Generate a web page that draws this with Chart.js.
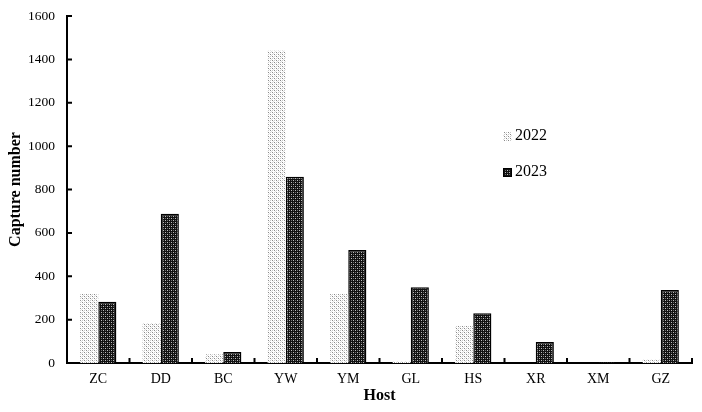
<!DOCTYPE html>
<html>
<head>
<meta charset="utf-8">
<script src="https://cdn.jsdelivr.net/npm/chart.js@4.4.1/dist/chart.umd.min.js"></script>
<style>
  html, body { margin: 0; padding: 0; background: #fff; }
  #wrap { width: 702px; height: 412px; }
</style>
</head>
<body>
<div id="wrap"><canvas id="chart" width="702" height="412"></canvas></div>
<script>
const hosts = ["ZC", "DD", "BC", "YW", "YM", "GL", "HS", "XR", "XM", "GZ"];
const captures2022 = [318, 184, 40, 1440, 318, 8, 171, 0, 0, 16];
const captures2023 = [282, 688, 51, 859, 521, 349, 229, 97, 3, 337];
const seriesNames = ["2022", "2023"];
const yMax = 1600;
const yStep = 200;

const serif = "'Liberation Serif', 'Times New Roman', serif";

// small tiles for the dotted / dark fills
function makePattern(bg, dots) {
  const c = document.createElement("canvas");
  c.width = 4;
  c.height = 4;
  const g = c.getContext("2d");
  g.fillStyle = bg;
  g.fillRect(0, 0, 4, 4);
  dots.forEach(d => {
    g.fillStyle = d[2];
    g.fillRect(d[0], d[1], 1, 1);
  });
  return g.createPattern(c, "repeat");
}

const ctx = document.getElementById("chart").getContext("2d");
const light = makePattern("#ffffff", [[0, 0, "#8a8a8a"], [2, 2, "#8a8a8a"], [2, 0, "#c8c8c8"], [0, 2, "#c8c8c8"], [1, 1, "#e0e0e0"], [3, 3, "#e0e0e0"]]);
const dark = makePattern("#111111", [[1, 0, "#bdbdbd"], [3, 2, "#bdbdbd"], [1, 2, "#6a6a6a"], [3, 0, "#6a6a6a"]]);

// tick marks pointing into the plot, plus the little legend
const extras = {
  id: "extras",
  afterDraw(chart) {
    const g = chart.ctx;
    const x = chart.scales.x;
    const y = chart.scales.y;
    g.save();
    g.strokeStyle = "#000";
    g.lineWidth = 2;
    g.beginPath();
    y.ticks.forEach((t, i) => {
      const py = y.getPixelForTick(i);
      g.moveTo(y.right, py);
      g.lineTo(y.right + 5, py);
    });
    const half = (x.getPixelForTick(1) - x.getPixelForTick(0)) / 2;
    for (let i = 0; i < hosts.length; i++) {
      const px = x.getPixelForTick(i) + half;
      g.moveTo(px, x.top);
      g.lineTo(px, x.top - 5);
    }
    g.stroke();

    // legend
    const lx = chart.chartArea.left + 436;
    const rows = [chart.chartArea.top + 120, chart.chartArea.top + 156];
    g.font = "16px " + serif;
    g.textBaseline = "middle";
    g.fillStyle = "#000";
    seriesNames.forEach((name, i) => {
      const ds = chart.data.datasets[i];
      g.fillStyle = ds.backgroundColor;
      g.fillRect(lx, rows[i] - 4, 9, 9);
      if (i === 1) {
        g.lineWidth = 1;
        g.strokeRect(lx + 0.5, rows[i] - 3.5, 8, 8);
      }
      g.fillStyle = "#000";
      g.fillText(name, lx + 12, rows[i]);
    });
    g.restore();
  }
};

new Chart(ctx, {
  type: "bar",
  data: {
    labels: hosts,
    datasets: [
      {
        label: seriesNames[0],
        data: captures2022,
        backgroundColor: light,
        borderWidth: 0
      },
      {
        label: seriesNames[1],
        data: captures2023,
        backgroundColor: dark,
        borderColor: "#000",
        borderWidth: 1.5
      }
    ]
  },
  options: {
    responsive: false,
    animation: false,
    layout: { padding: { top: 16, right: 10, left: 0, bottom: 0 } },
    datasets: { bar: { categoryPercentage: 0.58, barPercentage: 1.0 } },
    plugins: {
      legend: { display: false },
      tooltip: { enabled: false }
    },
    scales: {
      x: {
        grid: { display: false, drawTicks: false },
        border: { color: "#000", width: 2 },
        ticks: { color: "#000", padding: 8, font: { family: serif, size: 14 } },
        title: {
          display: true,
          text: "Host",
          color: "#000",
          padding: { top: 0, bottom: 7 },
          font: { family: serif, size: 16, weight: "bold" }
        },
        afterFit(s) { s.height = 49; }
      },
      y: {
        min: 0,
        max: yMax,
        grid: { display: false, drawTicks: false },
        border: { color: "#000", width: 2 },
        ticks: {
          stepSize: yStep,
          color: "#000",
          padding: 12,
          font: { family: serif, size: 13.5 },
          callback: v => String(v)
        },
        title: {
          display: true,
          text: "Capture number",
          color: "#000",
          padding: { top: 6, bottom: 0 },
          font: { family: serif, size: 16, weight: "bold" }
        },
        afterFit(s) {
          s.width = 67;
          s.paddingTop = 8;
          s.paddingBottom = 8;
        }
      }
    }
  },
  plugins: [extras]
});
</script>
</body>
</html>
